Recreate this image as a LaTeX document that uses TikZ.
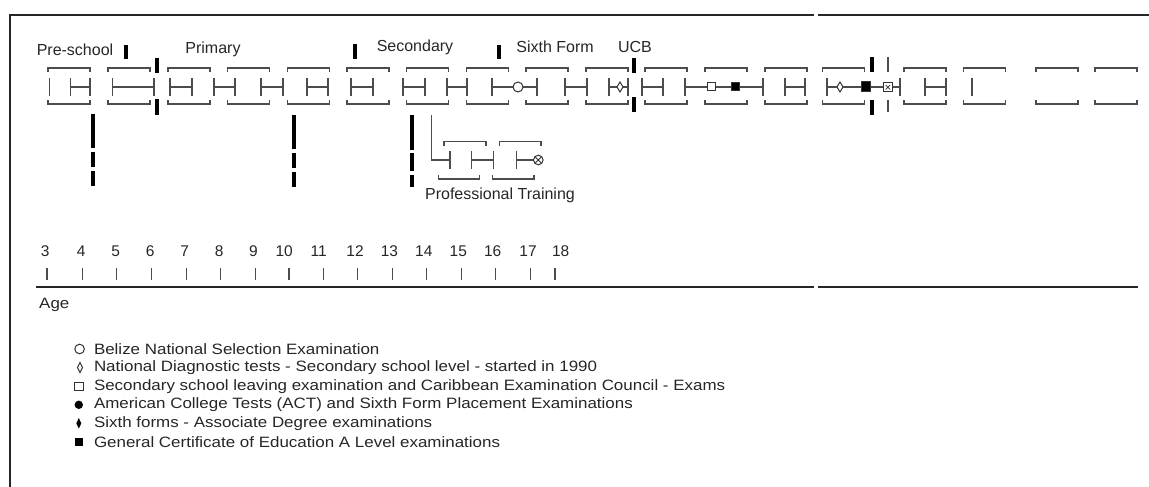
\documentclass[tikz,border=0pt]{standalone}
\usepackage{fontspec}
\setmainfont{Liberation Sans}
\newfontfamily\legfont[FakeStretch=1.13]{Liberation Sans}
\begin{document}
\begin{tikzpicture}[x=1pt,y=-1pt,
  ln/.style={line width=1.3pt, draw=black!70},
  sym/.style={line width=1pt, draw=black!80},
  barstyle/.style={line width=4pt, draw=black},
  framestyle/.style={line width=1.6pt, draw=black!85},
  lab/.style={font=\fontsize{16}{19}\selectfont, text=black!85, inner sep=0pt},
  agenum/.style={font=\fontsize{15.5}{18}\selectfont, text=black!85, inner sep=0pt},
  leg/.style={font=\legfont\fontsize{15}{18}\selectfont, text=black!85, anchor=west, inner sep=0pt}]
\useasboundingbox (0,0) rectangle (1149,487);
% frame
\draw[framestyle] (10,487) -- (10,15) -- (814,15);
\draw[framestyle] (818,15) -- (1149,15);
% top row brackets
\foreach \L in {48,108,168,227.5,287.5,347,406.5,466.5,526,586,645,705,765,822.5,904,963.5,1036,1095}{
  \draw[ln] (\L,72) -- (\L,68) -- (\L+42,68) -- (\L+42,72);
  \draw[ln] (\L,100) -- (\L,104) -- (\L+42,104) -- (\L+42,100);
}
% plain H segments
\foreach \a/\b in {70.7/90,112.7/154,170/192,214/235,261/283,307/328,351/373,403/425,447/467,565/587,642/663,785/805,925/946}{
  \draw[ln] (\a,78) -- (\a,96) (\a,87) -- (\b,87) (\b,78) -- (\b,96);
}
% lone bars
\draw[ln] (49.3,78) -- (49.3,96);
\draw[ln] (972,78) -- (972,96);
% chain with circle
\draw[ln] (492,78) -- (492,96) (492,87) -- (537,87) (537,78) -- (537,96);
\draw[sym, fill=white] (518,87) circle (5pt);
% chain with diamond (box 10)
\draw[ln] (609,78) -- (609,96) (609,87) -- (628,87) (628,78) -- (628,96);
\draw[sym, fill=white] (617,87) -- (620,82) -- (623,87) -- (620,92) -- cycle;
% chain with squares
\draw[ln] (685,78) -- (685,96) (685,87) -- (763,87) (763,78) -- (763,96);
\draw[sym, fill=white] (707,83) rectangle (715,91);
\draw[sym, fill=black] (731,83) rectangle (739,91);
% chain with diamond, black square, boxed cross
\draw[ln] (827,78) -- (827,96) (827,87) -- (900,87) (900,78) -- (900,96);
\draw[sym, fill=white] (837,87) -- (840,82) -- (843,87) -- (840,92) -- cycle;
\draw[sym, fill=black] (861,82) rectangle (870,92);
\draw[sym, fill=white] (883.5,83) rectangle (892,91.5);
\draw[line width=0.7pt, black!80] (885.5,85) -- (890,89.5) (885.5,89.5) -- (890,85);
\draw[ln] (888,57) -- (888,72) (888,100) -- (888,112);
% thick bars
\draw[barstyle] (126,45) -- (126,59);
\draw[barstyle] (157,58) -- (157,73) (157,99) -- (157,115);
\draw[barstyle] (355,44) -- (355,59);
\draw[barstyle] (499,45) -- (499,59);
\draw[barstyle] (634,58) -- (634,73) (634,97) -- (634,112);
\draw[barstyle] (872,57) -- (872,72) (872,100) -- (872,115);
% lower dashed thick bars
\draw[barstyle] (93,114) -- (93,148) (93,152) -- (93,167) (93,171) -- (93,186);
\draw[barstyle] (294,115) -- (294,149) (294,153) -- (294,168) (294,172) -- (294,187);
\draw[barstyle] (412,115) -- (412,150) (412,153) -- (412,171) (412,175) -- (412,187);
% professional training
\draw[ln] (431.7,115) -- (431.7,160) -- (450,160);
\draw[ln] (450,151) -- (450,169);
\draw[ln] (471.7,151) -- (471.7,169) (471.7,160) -- (493.3,160) (493.3,151) -- (493.3,169);
\draw[ln] (516.7,151) -- (516.7,169) (516.7,160) -- (538,160);
\draw[sym, fill=white] (538.3,160) circle (4.8pt);
\draw[line width=0.8pt, black!80] (535.3,157) -- (541.3,163) (535.3,163) -- (541.3,157);
\foreach \L/\R in {444/486,499.3/541}{
  \draw[ln] (\L,145.5) -- (\L,141.7) -- (\R,141.7) -- (\R,145.5);
}
\foreach \L/\R in {438.3/479.3,492.7/534}{
  \draw[ln] (\L,175) -- (\L,179) -- (\R,179) -- (\R,175);
}
\node[lab] (pt) at (500,195) {Professional Training};
% labels
\node[lab] (pre) at (75,50) {Pre-school};
\node[lab] (pri) at (213,49) {Primary};
\node[lab] (sec) at (415,47) {Secondary};
\node[lab] (six) at (555,47) {Sixth Form};
\node[lab] (ucb) at (635,47) {UCB};
% age axis
\foreach \n/\c/\t in {3/45.2/47.1,4/81.3/82.3,5/115.8/116.7,6/150.2/151.2,7/184.7/186.4,8/219.1/220.8,9/253.5/255.3,10/284.2/288.9,11/318.6/323.4,12/355/357.8,13/389.4/392.3,14/423.8/426.7,15/458.3/461.2,16/492.7/495.6,17/528.1/530.8,18/560.7/554.9}{
  \node[agenum] (age\n) at (\c,251) {\n};
  \draw[ln] (\t,268) -- (\t,280);
}
\draw[framestyle] (36,287) -- (814,287);
\draw[framestyle] (818,287) -- (1138,287);
\node[leg] (agelab) at (39,305) {Age};
% legend
\draw[sym] (79.6,349) circle (4.8pt);
\node[leg] (l1) at (93.8,349) {Belize National Selection Examination};
\draw[sym] (77.5,367.5) -- (80,362.5) -- (82.5,367.5) -- (80,372.5) -- cycle;
\node[leg] (l2) at (93.8,367.5) {National Diagnostic tests - Secondary school level - started in 1990};
\draw[sym] (74.8,382) rectangle (83.2,390.4);
\node[leg] (l3) at (93.8,386.2) {Secondary school leaving examination and Caribbean Examination Council - Exams};
\fill[black] (78.8,404.8) circle (4.2pt);
\node[leg] (l4) at (93.8,404.8) {American College Tests (ACT) and Sixth Form Placement Examinations};
\fill[black] (76.3,423.3) -- (78.8,418) -- (81.3,423.3) -- (78.8,428.6) -- cycle;
\node[leg] (l5) at (93.8,423.3) {Sixth forms - Associate Degree examinations};
\fill[black] (74.5,437.5) rectangle (83,446);
\node[leg] (l6) at (93.8,441.8) {General Certificate of Education A Level examinations};
\end{tikzpicture}
\end{document}
